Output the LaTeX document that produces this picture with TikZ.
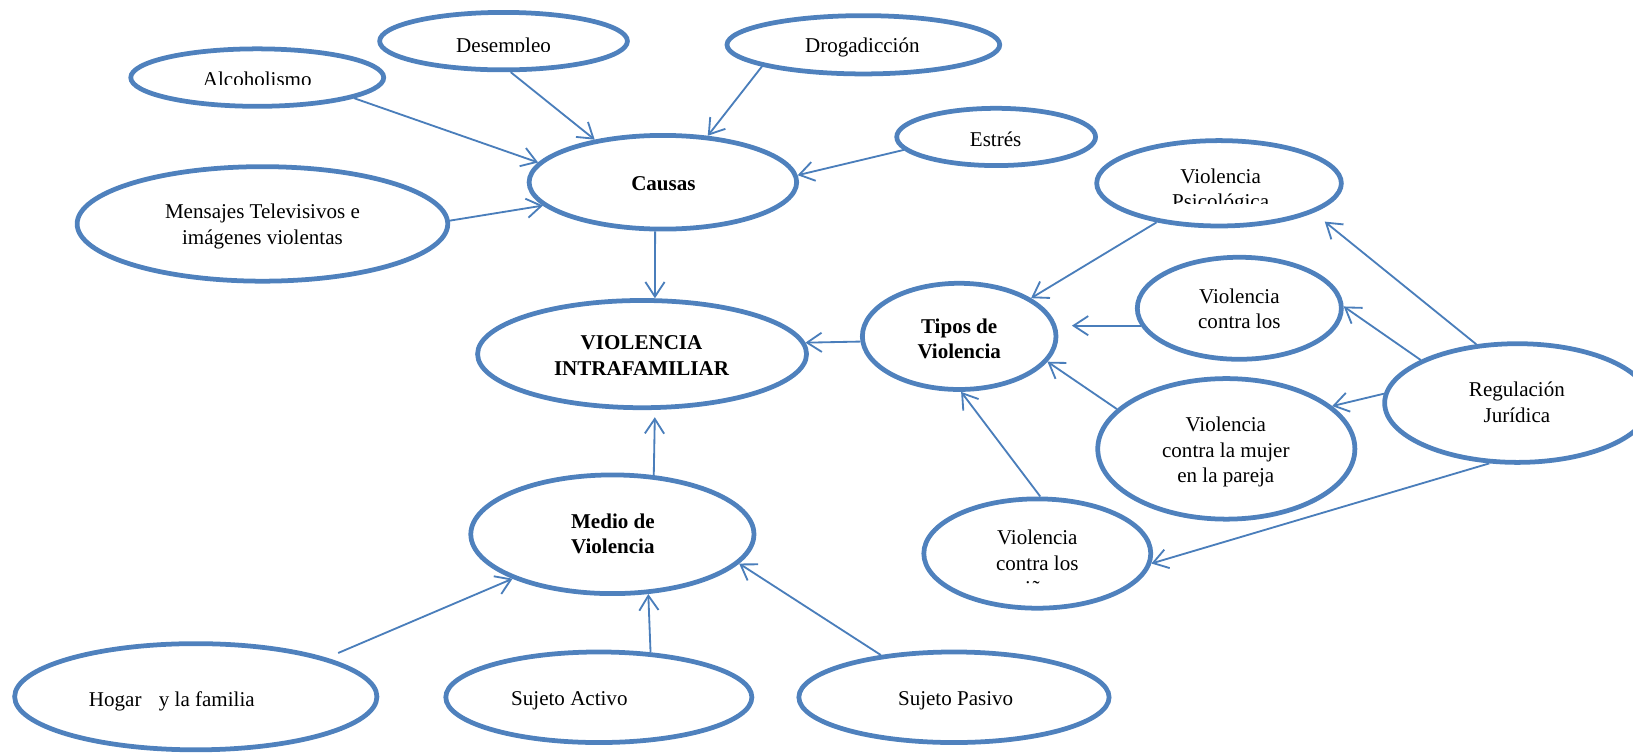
\documentclass[tikz,border=0pt]{standalone}
\usepackage{fontspec}
\setmainfont{Liberation Serif}
\usetikzlibrary{shapes.geometric,arrows.meta}
\definecolor{ellc}{HTML}{4F81BD}
\definecolor{linc}{HTML}{4A7EBB}
\newcommand\lns[1]{\begin{tabular}[t]{@{}c@{}}#1\end{tabular}}
\begin{document}
\begin{tikzpicture}[x=0.02cm,y=-0.02cm,
  ell/.style 2 args={ellipse, draw=ellc, line width=2.6pt, inner sep=0pt,
    minimum width={(#1-2)*0.04cm}, minimum height={(#2-2)*0.04cm}},
  txt/.style={anchor=base, inner sep=0pt, font=\fontsize{11.5}{13.9}\selectfont},
  txtb/.style={txt, font=\fontsize{11.5}{13.9}\selectfont\bfseries},
  arr/.style={draw=linc, line width=1pt, -{Straight Barb[length=8pt,width=10.5pt]}}]
\useasboundingbox (0,0) rectangle (1568,723);
\clip (0,0) rectangle (1568,723);
% ellipses
\node[ell={123.5}{29.6}] (alc) at (247,74.5) {};
\node[ell={121}{29.6}] (des) at (483.5,39.5) {};
\node[ell={133}{30}] (dro) at (829,43) {};
\node[ell={97.5}{29.5}] (est) at (956.5,131.5) {};
\node[ell={130.5}{47}] (cau) at (636.5,175) {};
\node[ell={180}{57}] (men) at (252,215) {};
\node[ell={160}{53.5}] (vi) at (616.5,340) {};
\node[ell={95}{53}] (tip) at (921,323) {};
\node[ell={119.5}{43}] (psi) at (1170.5,176) {};
\node[ell={100}{51}] (cls) at (1190,296) {};
\node[ell={129.5}{59}] (reg) at (1457,387) {};
\node[ell={125.5}{69.5}] (muj) at (1177.5,431) {};
\node[ell={111}{54.5}] (nin) at (996,531.5) {};
\node[ell={138}{59}] (med) at (588,513) {};
\node[ell={176}{53}] (hog) at (188,669) {};
\node[ell={149}{45.5}] (act) at (575,669.5) {};
\node[ell={151}{45.5}] (pas) at (916,669.5) {};
% texts
\begin{scope}
\clip (100,0) rectangle (400,81.6);
\node[txt] (alct) at (247,83.2) {Alcoholismo};
\end{scope}
\begin{scope}
\clip (350,0) rectangle (620,49.5);
\node[txt] (dest) at (483.5,50.5) {Desempleo};
\end{scope}
\node[txt] (drot) at (828,50.2) {Drogadicción};
\node[txt] (estt) at (956,140.8) {Estrés};
\node[txtb] (caut) at (637,183) {Causas};
\node[txt] (ment) at (252,210) {\lns{Mensajes Televisivos e\\imágenes violentas}};
\node[txtb] (vit) at (616,336) {\lns{VIOLENCIA\\INTRAFAMILIAR}};
\node[txtb] (tipt) at (921,320) {\lns{Tipos de\\Violencia}};
\begin{scope}
\clip (1060,140) rectangle (1290,195);
\node[txt] (psit) at (1172,176) {\lns{Violencia\\Psicológica}};
\end{scope}
\node[txt] (clst) at (1190,291) {\lns{Violencia\\contra los}};
\node[txt] (regt) at (1456.5,381) {\lns{Regulación\\Jurídica}};
\node[txt] (mujt) at (1177,414.5) {\lns{Violencia\\contra la mujer\\en la pareja}};
\begin{scope}
\clip (900,490) rectangle (1100,561);
\node[txt] (nint) at (996,523) {\lns{Violencia\\contra los\\niños}};
\end{scope}
\node[txtb] (medt) at (588.5,507) {\lns{Medio de\\Violencia}};
\node[txt] (hogt) at (165,678.5) {Hogar\hspace{9.5pt}y la familia};
\node[txt] (actt) at (546.7,677) {Sujeto Activo};
\node[txt] (past) at (917.6,677) {Sujeto Pasivo};
% connectors
\draw[arr] (alc.-12.3) -- (cau.171.4);
\draw[arr] (des.-77) -- (cau.148.5);
\draw[arr] (dro.-168.9) -- (cau.46);
\draw[arr] (est.188) -- (cau.3);
\draw[arr] (men.1.4) -- (cau.191.5);
\draw[arr] (cau.-99) -- (vi.77.6);
\draw[arr] (tip.183) -- (vi.4.2);
\draw[arr, shorten >=4pt] (med.55.4) -- (vi.-77.8);
\draw[arr] (psi.212.2) -- (tip.28.6);
\draw[arr, shorten >=7.4pt] (cls.190.5) -- (cls.190.5 -| tip.east);
\draw[arr] (muj.160.9) -- (tip.-16);
\draw[arr] (nin.87.3) -- (tip.-88.3);
\coordinate (rp) at (1272,212.8);
\draw[arr] (reg.125.9) -- (rp);
\draw[arr] (reg.156) -- (cls.1.7);
\draw[arr] (reg.176.5) -- (muj.22.7);
\draw[arr] (reg.-115.5) -- (nin.-5.6);
\coordinate (hs) at (324.7,627);
\draw[arr] (hs) -- (med.204.2);
\draw[arr] (act.41.2) -- (med.-59);
\draw[arr] (pas.150.1) -- (med.-13.8);
\end{tikzpicture}
\end{document}
